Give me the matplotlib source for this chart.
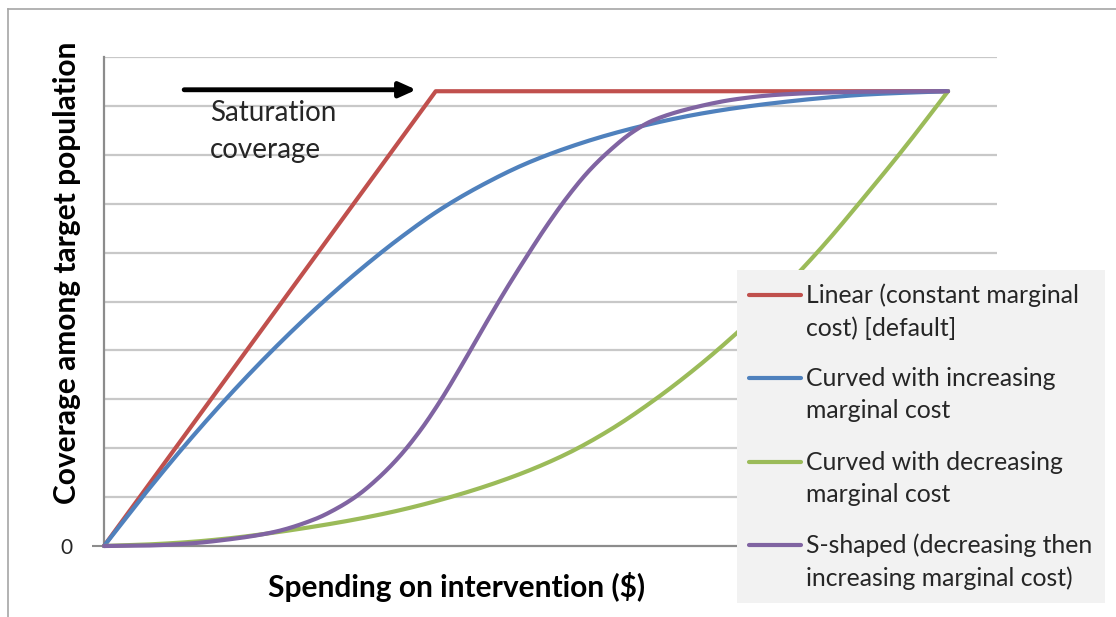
import numpy as np
import matplotlib.pyplot as plt
from matplotlib.lines import Line2D
from matplotlib.patches import Rectangle

# --- Data (spending on a 0-100 scale, coverage as a fraction) ---
SATURATION = 0.93

linear_x = [0, 39.3, 100]
linear_y = [0, SATURATION, SATURATION]

increasing_x = [0, 5, 10, 15, 20, 25, 30, 35, 40, 45, 50,
                55, 60, 65, 70, 75, 80, 85, 90, 95, 100]
increasing_y = [0, 0.11, 0.214, 0.311, 0.401, 0.484, 0.56, 0.629, 0.69, 0.740, 0.782,
                0.815, 0.842, 0.864, 0.882, 0.896, 0.907, 0.916, 0.923, 0.927, 0.93]

decreasing_x = [0, 5, 10, 15, 20, 25, 30, 35, 40, 45, 50,
                55, 60, 65, 70, 75, 80, 85, 90, 95, 100]
decreasing_y = [0, 0.003, 0.008, 0.016, 0.027, 0.040, 0.055, 0.073, 0.095, 0.121, 0.152,
                0.190, 0.238, 0.296, 0.362, 0.436, 0.518, 0.610, 0.712, 0.818, 0.93]

s_shaped_x = [0, 5, 10, 15, 20, 25, 27.5, 30, 32.5, 35, 37.5, 40, 42.5, 45, 47.5,
              50, 52.5, 55, 57.5, 60, 62.5, 65, 70, 75, 80, 85, 90, 100]
s_shaped_y = [0, 0.001, 0.005, 0.014, 0.028, 0.055, 0.076, 0.103, 0.139, 0.183, 0.237,
              0.301, 0.373, 0.448, 0.521, 0.590, 0.656, 0.716, 0.768, 0.810, 0.845,
              0.870, 0.897, 0.914, 0.923, 0.927, 0.929, 0.93]

labels = [
    'Linear (constant marginal\ncost) [default]',
    'Curved with increasing\nmarginal cost',
    'Curved with decreasing\nmarginal cost',
    'S-shaped (decreasing then\nincreasing marginal cost)',
]

# --- Style ---
COLORS = ['#C0504D', '#4F81BD', '#9BBB59', '#8064A2']
GRID_COLOR = '#C8C8C8'
AXIS_COLOR = '#8C8C8C'
TEXT_COLOR = '#262626'
FONT = 'Lato'
LINE_WIDTH = 3.0


def smooth_line(xs, ys, steps=12):
    """Monotone cubic (Fritsch-Carlson) path through the points, like a smoothed line."""
    x = np.asarray(xs, float)
    y = np.asarray(ys, float)
    h = np.diff(x)
    d = np.diff(y) / h
    m = np.zeros_like(y)
    m[0], m[-1] = d[0], d[-1]
    for i in range(1, len(x) - 1):
        if d[i - 1] * d[i] > 0:
            w1 = 2 * h[i] + h[i - 1]
            w2 = h[i] + 2 * h[i - 1]
            m[i] = (w1 + w2) / (w1 / d[i - 1] + w2 / d[i])
    px, py = [], []
    for i in range(len(x) - 1):
        t = np.linspace(0, 1, steps, endpoint=False)
        h00 = 2 * t**3 - 3 * t**2 + 1
        h10 = t**3 - 2 * t**2 + t
        h01 = -2 * t**3 + 3 * t**2
        h11 = t**3 - t**2
        px.append(x[i] + t * h[i])
        py.append(h00 * y[i] + h10 * h[i] * m[i] + h01 * y[i + 1] + h11 * h[i] * m[i + 1])
    px.append([x[-1]])
    py.append([y[-1]])
    return np.concatenate(px), np.concatenate(py)


W, H = 1116, 617
fig = plt.figure(figsize=(W / 100, H / 100), dpi=100)
fig.patch.set_facecolor('white')

# plot area in pixel terms: left 104, right 997, top 57, bottom 546
ax = fig.add_axes([104 / W, (H - 546) / H, 893 / W, 489 / H])
ax.set_xlim(0, 105.8)
ax.set_ylim(0, 1.0)

# the linear case keeps its sharp corner, the others are smoothed
ax.plot(linear_x, linear_y, color=COLORS[0], linewidth=LINE_WIDTH,
        solid_capstyle='round', solid_joinstyle='round', zorder=3, clip_on=False)
curved = [(increasing_x, increasing_y), (decreasing_x, decreasing_y), (s_shaped_x, s_shaped_y)]
for (xs, ys), color in zip(curved, COLORS[1:]):
    sx, sy = smooth_line(xs, ys)
    ax.plot(sx, sy, color=color, linewidth=LINE_WIDTH, solid_capstyle='round',
            solid_joinstyle='round', zorder=3, clip_on=False)

# horizontal gridlines every 0.1, only the zero is labelled
ax.set_yticks(np.arange(0.1, 1.01, 0.1))
ax.set_yticklabels([])
ax.tick_params(axis='y', which='major', length=0)
ax.set_yticks([0], minor=True)
ax.set_yticklabels(['0'], minor=True, fontsize=15, family=FONT, color=TEXT_COLOR)
ax.tick_params(axis='y', which='minor', length=9, width=1.5, color=AXIS_COLOR, pad=14)
ax.yaxis.grid(True, which='major', color=GRID_COLOR, linewidth=1.6)
ax.set_xticks([])
ax.set_axisbelow(True)

for side in ['top', 'right']:
    ax.spines[side].set_visible(False)
for side in ['left', 'bottom']:
    ax.spines[side].set_color(AXIS_COLOR)
    ax.spines[side].set_linewidth(1.6)

# saturation arrow and note
ax.annotate('', xy=(37.0, SATURATION + 0.003), xytext=(9.5, SATURATION + 0.003),
            arrowprops=dict(arrowstyle='-|>,head_length=1.0,head_width=0.45',
                            color='black', linewidth=3.5, shrinkA=0, shrinkB=0))
ax.text(12.6, 0.885, 'Saturation', fontsize=20, family=FONT, color=TEXT_COLOR,
        va='center', ha='left')
ax.text(12.6, 0.81, 'coverage', fontsize=20, family=FONT, color=TEXT_COLOR,
        va='center', ha='left')

# axis titles
fig.text(457 / W, 1 - 587 / H, 'Spending on intervention ($)', fontsize=21.5,
         fontweight='bold', family=FONT, color='black', ha='center', va='center')
fig.text(67 / W, 1 - 273 / H, 'Coverage among target population', fontsize=21.5,
         fontweight='bold', family=FONT, color='black', ha='center', va='center',
         rotation=90)

# legend panel drawn on the figure
fig.patches.append(Rectangle((737 / W, 1 - 603 / H), 368 / W, 333 / H,
                             transform=fig.transFigure, facecolor='#F2F2F2',
                             edgecolor='none', zorder=5))
entry_rows = [295, 378, 462, 545]
for label, color, y_px in zip(labels, COLORS, entry_rows):
    y = 1 - y_px / H
    fig.lines.append(Line2D([749 / W, 801 / W], [y, y], transform=fig.transFigure,
                            color=color, linewidth=LINE_WIDTH, solid_capstyle='round',
                            zorder=6))
    for k, part in enumerate(label.split('\n')):
        fig.text(806 / W, y - k * 33 / H, part, fontsize=17.8, family=FONT,
                 color=TEXT_COLOR, ha='left', va='center', zorder=7)

# thin outer frame along the top and left edges
fig.lines.append(Line2D([8 / W, 8 / W], [0, 1 - 9 / H], transform=fig.transFigure,
                        color='#A6A6A6', linewidth=1.2))
fig.lines.append(Line2D([8 / W, 1], [1 - 9 / H, 1 - 9 / H], transform=fig.transFigure,
                        color='#A6A6A6', linewidth=1.2))

fig.savefig('out.png', dpi=100, facecolor=fig.get_facecolor())
plt.close(fig)
